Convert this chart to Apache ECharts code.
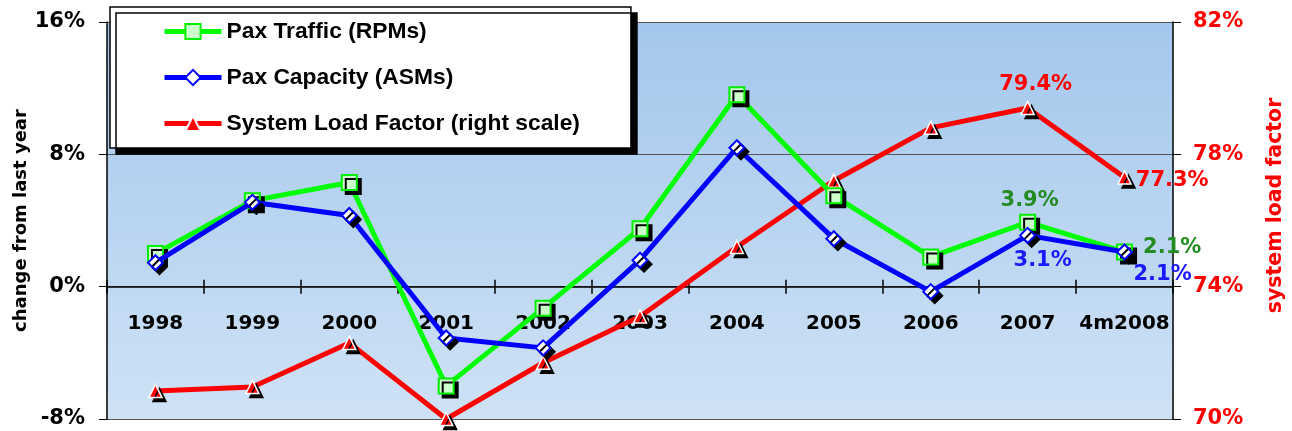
<!DOCTYPE html>
<html><head><meta charset="utf-8">
<script src="https://cdn.jsdelivr.net/npm/echarts@6/dist/echarts.min.js"></script>
<style>html,body{margin:0;padding:0;background:#fff}#c{width:1292px;height:431px}</style>
</head><body><div id="c"></div>
<script>
const categories = ['1998','1999','2000','2001','2002','2003','2004','2005','2006','2007','4m2008'];
const paxTraffic = [2.0, 5.2, 6.3, -6.0, -1.3, 3.5, 11.6, 5.5, 1.8, 3.9, 2.1];
const paxCapacity = [1.45, 5.1, 4.3, -3.1, -3.7, 1.6, 8.4, 2.9, -0.3, 3.1, 2.1];
const loadFactor = [70.85, 70.97, 72.3, 70.0, 71.7, 73.1, 75.2, 77.2, 78.8, 79.4, 77.3];
const leftTicks = {min: -8, max: 16, interval: 8};
const rightTicks = {min: 70, max: 82, interval: 4};

const FONT = '"Liberation Sans", Arial, sans-serif';
const WIDE = '"DejaVu Sans", sans-serif';
const shadow = {shadowColor: '#000', shadowBlur: 0, shadowOffsetX: 4, shadowOffsetY: 4};

function labelled(values, labels) {
  return values.map((v, i) => labels[i] ? {value: v, label: Object.assign({show: true, formatter: '{c}%'}, labels[i])} : v);
}
const lblBase = {fontFamily: WIDE, fontWeight: 'bold', fontSize: 21};

const chart = echarts.init(document.getElementById('c'));
chart.setOption({
  animation: false,
  textStyle: {fontFamily: FONT},
  grid: {
    left: 107, right: 119, top: 22, bottom: 12, show: true, borderWidth: 0,
    containLabel: false, outerBoundsMode: 'none',
    backgroundColor: new echarts.graphic.LinearGradient(0, 0, 0, 1, [
      {offset: 0, color: '#a3c7ec'}, {offset: 1, color: '#cfe2f6'}
    ])
  },
  legend: {
    left: 110, top: 7, orient: 'vertical',
    padding: [13, 51, 13, 52],
    itemWidth: 57, itemHeight: 19, itemGap: 23,
    backgroundColor: '#fff', borderColor: '#000', borderWidth: 1.5,
    shadowColor: '#000', shadowBlur: 0, shadowOffsetX: 6, shadowOffsetY: 6,
    lineStyle: {width: 5},
    textStyle: {fontFamily: FONT, fontWeight: 'bold', fontSize: 22.8, color: '#000'},
    data: ['Pax Traffic (RPMs)', 'Pax Capacity (ASMs)', 'System Load Factor (right scale)']
  },
  xAxis: [{
    type: 'category', data: categories, boundaryGap: true, position: 'bottom',
    axisLine: {show: false, onZero: false},
    axisTick: {show: false},
    axisLabel: {interval: 0, margin: -105, fontSize: 20, fontWeight: 'bold', color: '#000', fontFamily: WIDE},
    z: 1
  }, {
    type: 'category', data: categories, boundaryGap: true, position: 'top',
    axisLine: {show: true, onZero: true, onZeroAxisIndex: 0, lineStyle: {color: '#000', width: 1.5}},
    axisTick: {show: true, length: 7, lineStyle: {color: '#000', width: 1.5}},
    axisLabel: {show: false}
  }, {
    type: 'category', data: categories, boundaryGap: true, position: 'top',
    axisLine: {show: false, onZero: true, onZeroAxisIndex: 0},
    axisTick: {show: true, inside: true, length: 7, lineStyle: {color: '#000', width: 1.5}},
    axisLabel: {show: false}
  }],
  yAxis: [{
    type: 'value', min: leftTicks.min, max: leftTicks.max, interval: leftTicks.interval,
    name: 'change from last year', nameLocation: 'middle', nameRotate: 90, nameGap: 77,
    nameMoveOverlap: false,
    nameTextStyle: {fontFamily: WIDE, fontWeight: 'bold', fontSize: 18, color: '#000'},
    axisLine: {show: true, lineStyle: {color: '#000', width: 1.5}},
    axisTick: {show: true, length: 8, lineStyle: {color: '#000'}},
    axisLabel: {formatter: '{value}%', fontSize: 21, fontWeight: 'bold', color: '#000', margin: 22, fontFamily: WIDE},
    splitLine: {show: true, lineStyle: {color: '#555', width: 1.2}}
  }, {
    type: 'value', min: rightTicks.min, max: rightTicks.max, interval: rightTicks.interval,
    position: 'right',
    name: 'system load factor', nameLocation: 'middle', nameRotate: 90, nameGap: 92,
    nameMoveOverlap: false,
    nameTextStyle: {fontFamily: WIDE, fontWeight: 'bold', fontSize: 20.5, color: '#ff0000', padding: [0, 0, 0, 30]},
    axisLine: {show: true, lineStyle: {color: '#000', width: 1.5}},
    axisTick: {show: true, length: 8, lineStyle: {color: '#000'}},
    axisLabel: {formatter: '{value}%', fontSize: 21, fontWeight: 'bold', color: '#ff0000', margin: 20, fontFamily: WIDE},
    splitLine: {show: false}
  }],
  series: [{
    name: 'Pax Traffic (RPMs)', type: 'line', yAxisIndex: 0,
    data: labelled(paxTraffic, {9: Object.assign({}, lblBase, {position: 'top', distance: 3, offset: [2, 0], color: '#228b22'}),
                                10: Object.assign({}, lblBase, {position: 'right', distance: 10, offset: [0, -4], color: '#228b22'})}),
    symbol: 'rect', symbolSize: 15,
    lineStyle: {color: '#00ff00', width: 5},
    itemStyle: Object.assign({color: '#ccffcc', borderColor: '#00ee00', borderWidth: 2}, shadow),
    z: 3
  }, {
    name: 'Pax Capacity (ASMs)', type: 'line', yAxisIndex: 0,
    data: labelled(paxCapacity, {9: Object.assign({}, lblBase, {position: 'bottom', distance: 6, offset: [15, 0], color: '#1a1aff'}),
                                 10: Object.assign({}, lblBase, {position: 'bottom', distance: 4, offset: [38, 0], color: '#1a1aff'})}),
    symbol: 'diamond', symbolSize: 15,
    lineStyle: {color: '#0000ff', width: 5},
    itemStyle: Object.assign({color: '#ffffff', borderColor: '#0000ff', borderWidth: 2}, shadow),
    z: 4
  }, {
    name: 'System Load Factor (right scale)', type: 'line', yAxisIndex: 1,
    data: labelled(loadFactor, {9: Object.assign({}, lblBase, {position: 'top', distance: 6, offset: [8, 0], color: '#ff0000'}),
                                10: Object.assign({}, lblBase, {position: 'right', distance: 4, offset: [0, 3], color: '#ff0000'})}),
    symbol: 'triangle', symbolSize: 13,
    lineStyle: {color: '#ff0000', width: 5},
    itemStyle: Object.assign({color: '#ff0000', borderColor: '#ffffff', borderWidth: 1.5}, shadow),
    z: 2
  }]
});
</script></body></html>
